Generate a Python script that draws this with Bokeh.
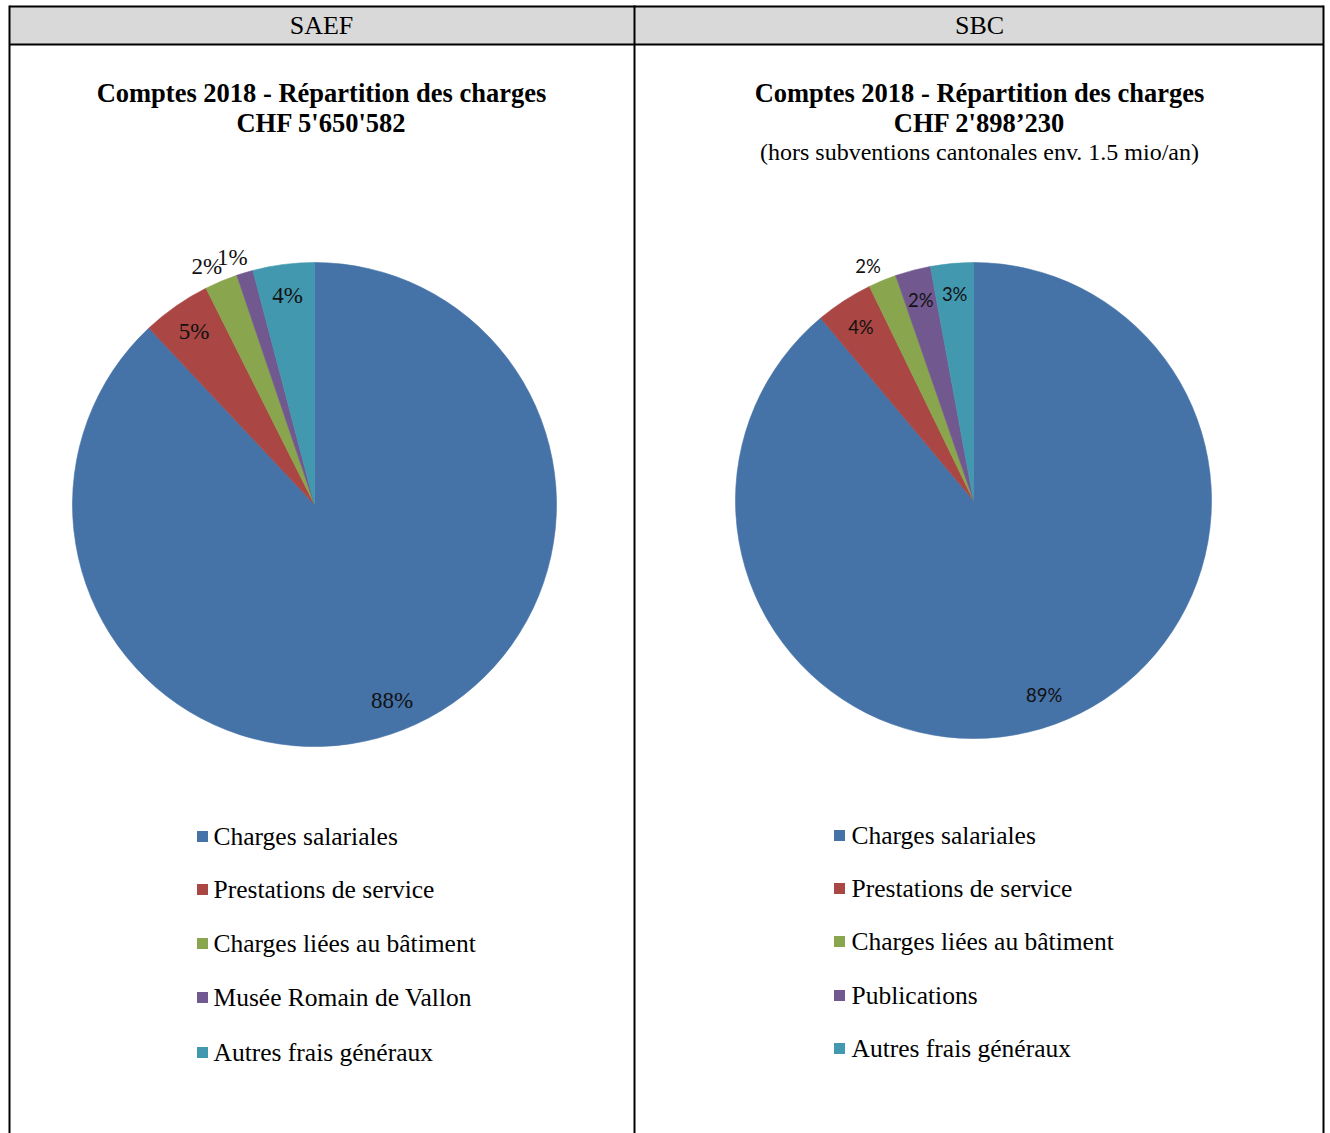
import numpy as np
from bokeh.plotting import figure
from bokeh.models import Range1d, ColumnDataSource
from bokeh.core.properties import value
from bokeh.embed import file_html
from bokeh.resources import INLINE

# ---------------- data ----------------
headers = ["SAEF", "SBC"]
titles = ["Comptes 2018 - Répartition des charges", "Comptes 2018 - Répartition des charges"]
totals = ["CHF 5'650'582", "CHF 2'898’230"]
subtitle_sbc = "(hors subventions cantonales env. 1.5 mio/an)"

saef_categories = ["Charges salariales", "Prestations de service", "Charges liées au bâtiment",
                   "Musée Romain de Vallon", "Autres frais généraux"]
saef_values = [88.0, 4.6, 2.2, 1.1, 4.1]

sbc_categories = ["Charges salariales", "Prestations de service", "Charges liées au bâtiment",
                  "Publications", "Autres frais généraux"]
sbc_values = [88.9, 3.9, 1.9, 2.4, 2.9]

colors = ["#4572A7", "#AA4643", "#89A54E", "#71588F", "#4198AF"]

# ---------------- layout ----------------
W, H = 1330, 1133
def Y(py):
    return H - py

p = figure(width=W, height=H, x_range=Range1d(0, W), y_range=Range1d(0, H),
           output_backend="svg", toolbar_location=None, min_border=0,
           background_fill_color="white", border_fill_color="white")
p.axis.visible = False
p.grid.visible = False
p.outline_line_color = None

SERIF = value("Liberation Serif")

# header band
p.quad(left=[9], right=[1323], top=[Y(6)], bottom=[Y(44)], fill_color="#d9d9d9", line_color=None)
# table lines
p.segment(x0=[9, 1323, 634, 9, 9], y0=[Y(5), Y(5), Y(5), Y(6), Y(44)],
          x1=[9, 1323, 634, 1323, 1323], y1=[Y(1133), Y(1133), Y(1133), Y(6), Y(44)],
          line_color="black", line_width=2)

col_centers = [321, 979]
p.text(x=col_centers, y=[Y(25), Y(25)], text=headers, text_font=SERIF, text_font_size="26px",
       text_align="center", text_baseline="middle", text_color="black")
p.text(x=col_centers, y=[Y(92), Y(92)], text=titles, text_font=SERIF, text_font_size="26.5px",
       text_font_style="bold", text_align="center", text_baseline="middle", text_color="black")
p.text(x=col_centers, y=[Y(122), Y(122)], text=totals, text_font=SERIF, text_font_size="26.5px",
       text_font_style="bold", text_align="center", text_baseline="middle", text_color="black")
p.text(x=[col_centers[1]], y=[Y(151)], text=[subtitle_sbc], text_font=SERIF, text_font_size="24px",
       text_align="center", text_baseline="middle", text_color="black")


def draw_pie(vals, cx, cy, r, lab_font, lab_size):
    v = np.array(vals, float)
    frac = v / v.sum()
    c = np.concatenate([[0.0], np.cumsum(frac)])
    a0 = c[:-1] * 2 * np.pi
    a1 = c[1:] * 2 * np.pi
    src = ColumnDataSource(dict(start=np.pi / 2 - a1, end=np.pi / 2 - a0, color=colors[:len(v)]))
    p.wedge(x=cx, y=cy, radius=r, start_angle="start", end_angle="end", direction="anticlock",
            fill_color="color", line_color="color", line_width=0.6, source=src)
    mid = np.pi / 2 - (a0 + a1) / 2
    outside = v < 2.3
    rl = np.where(outside, 1.08 * r, 0.87 * r)
    lx = cx + rl * np.cos(mid) - np.where(outside, 7, 0)
    ly = cy + rl * np.sin(mid) - np.where(outside, 3, 0)
    labels = [f"{x:.0f}%" for x in v]
    p.text(x=lx, y=ly, text=labels, text_font=lab_font, text_font_size=lab_size,
           text_align="center", text_baseline="middle", text_color="#111111")


draw_pie(saef_values, 314, Y(504), 242, SERIF, "23px")
draw_pie(sbc_values, 973, Y(500), 238, value("Lato"), "18.5px")


def draw_legend(cats, sq_x, rows, gap):
    ys = [Y(r) for r in rows]
    p.scatter(x=[sq_x] * len(cats), y=ys, marker="square", size=11,
              fill_color=colors[:len(cats)], line_color=None)
    p.text(x=[sq_x + gap] * len(cats), y=ys, text=cats, text_font=SERIF, text_font_size="25.5px",
           text_align="left", text_baseline="middle", text_color="black")


draw_legend(saef_categories, 202, [836, 889, 943, 997, 1052], 11)
draw_legend(sbc_categories, 839, [835, 888, 941, 995, 1048], 12)

open("out.html", "w").write(file_html(p, INLINE))
